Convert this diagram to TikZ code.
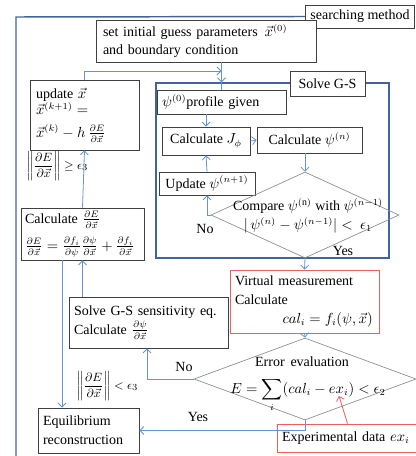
\documentclass[tikz,border=0pt]{standalone}
\usepackage{fontspec}
\setmainfont{Liberation Serif}
\usepackage{amsmath}
\usetikzlibrary{shapes.geometric}
\usetikzlibrary{arrows.meta}
\definecolor{frameblue}{RGB}{65,100,160}
\definecolor{arrowblue}{RGB}{100,148,210}
\definecolor{boxred}{RGB}{235,95,95}
\newlength\pxu
\setlength\pxu{0.75pt}

\begin{document}
\begin{tikzpicture}[x=0.75pt,y=-0.75pt,font=\fontsize{10.5}{14}\selectfont,
	box/.style={draw=black!75,line width=0.6pt,fill=white,inner sep=0pt},
	redbox/.style={box,draw=boxred},
	decision/.style={shape=diamond,draw=black!45,line width=0.5pt,inner sep=0pt},
	flow/.style={draw=arrowblue,line width=0.6pt,-{Straight Barb[length=3pt,width=6pt]}},
	redflow/.style={flow,draw=boxred}]
	\useasboundingbox (0,0) rectangle (416,456);

	% frames
	\node[draw=frameblue,line width=1.1pt,minimum width=233\pxu,minimum height=175\pxu] (gs) at (272.5,170.5) {};
	\node[box,minimum width=109\pxu,minimum height=23\pxu] (search) at (360,16.5) {searching method};
	\draw[frameblue,line width=1.1pt] (search.west) -- (16,17) -- (16,456);

	\node[box,minimum width=220\pxu,minimum height=42\pxu,text width=206\pxu,align=left] (init) at (206,41) {set initial guess parameters \,$\vec{x}^{(0)}$\\and boundary condition};
	\node[box,minimum width=109\pxu,minimum height=70\pxu,text width=97\pxu,align=left] (upd) at (84.5,115) {update $\vec{x}$\\[-2pt]$\vec{x}^{(k+1)}=$\\[3pt]$\vec{x}^{(k)}-h\,\frac{\partial E}{\partial\vec{x}}$};
	\node[box,minimum width=75\pxu,minimum height=25\pxu] (gslabel) at (327.5,83.5) {Solve G-S};

	% inner loop
	\node[box,minimum width=129\pxu,minimum height=24\pxu,text width=119\pxu,align=left] (psi0) at (221.5,102) {$\psi^{(0)}$profile given};
	\node[box,minimum width=88\pxu,minimum height=28\pxu] (jphi) at (206,141) {Calculate $J_\phi$};
	\node[box,minimum width=105\pxu,minimum height=26\pxu] (psin) at (309.5,140) {Calculate $\psi^{(n)}$};
	\node[box,minimum width=96\pxu,minimum height=23\pxu] (upsi) at (207,183.5) {Update $\psi^{(n+1)}$};
	\node[decision,minimum width=188\pxu,minimum height=86\pxu] (cmp) at (305,215) {};
	\node[align=center] (cmptxt) at (308,216) {Compare $\psi^{(\mathrm{n})}$ with $\psi^{(n-1)}$\\$|\,\psi^{(n)}-\psi^{(n-1)}|<\ \epsilon_1$};

	% outer loop
	\node[redbox,minimum width=149\pxu,minimum height=63\pxu,text width=139\pxu,align=left] (vm) at (304.5,301.5) {Virtual measurement\\Calculate\\\hspace*{3.4em}$cal_i=f_i(\psi,\vec{x})$};
	\node[decision,minimum width=222\pxu,minimum height=82\pxu] (err) at (305,379) {};
	\node (errtxt) at (302,362) {Error\, evaluation};
	\node (errsum) at (308,395) {$E=\displaystyle\sum_i(cal_i-ex_i)<\epsilon_2$};
	\coordinate (exi) at (339,396);
	\node[box,minimum width=159\pxu,minimum height=51\pxu,text width=149\pxu,align=left] (sens) at (148.5,322.5) {Solve G-S sensitivity eq.\\Calculate $\frac{\partial\psi}{\partial\vec{x}}$};
	\node[box,minimum width=123\pxu,minimum height=52\pxu,text width=115\pxu,align=left] (calce) at (82.5,234) {Calculate $\frac{\partial E}{\partial\vec{x}}$\\[6pt]$\frac{\partial E}{\partial\vec{x}}=\frac{\partial f_i}{\partial\psi}\frac{\partial\psi}{\partial\vec{x}}+\frac{\partial f_i}{\partial\vec{x}}$};
	\node[box,minimum width=101\pxu,minimum height=45\pxu,text width=91\pxu,align=left] (equil) at (88.5,430.5) {Equilibrium\\reconstruction};
	\node[redbox,minimum width=139\pxu,minimum height=28\pxu,text width=129\pxu,align=left] (expdata) at (346.5,438) {Experimental data $ex_i$};

	% labels
	\node[anchor=west,font=\fontsize{9.5}{11}\selectfont] (geq) at (22,166) {$\left\|\dfrac{\partial E}{\partial\vec{x}}\right\|\geq\epsilon_3$};
	\node[anchor=west,font=\fontsize{9.5}{11}\selectfont] (lt) at (72,386) {$\left\|\dfrac{\partial E}{\partial\vec{x}}\right\|<\epsilon_3$};
	\node (no1) at (205,229) {No};
	\node (yes1) at (343,251) {Yes};
	\node (no2) at (184,367) {No};
	\node (yes2) at (198,417) {Yes};

	% connectors
	\coordinate (merge) at (psi0.north |- 0,71);
	\draw[flow] (init.south -| psi0.north) -- (gs.north -| psi0.north);
	\draw[draw=arrowblue,line width=0.6pt] (gs.north -| psi0.north) -- (psi0.north);
	\draw[flow] (upd.north) |- (merge);
	\draw[flow] (psi0.south -| jphi.north) -- (jphi.north);
	\draw[flow] (jphi.east) -- (psin.west);
	\draw[flow] (psin.south -| cmp.north) -- (cmp.north);
	\draw[flow] (cmp.west) -| (upsi.south);
	\draw[flow] (upsi.north) -- (jphi.south);
	\draw[flow] (cmp.south) -- (vm.north);
	\draw[flow] (vm.south) -- (err.north);
	\draw[flow] (err.west) -| ([xshift=-1.5\pxu]sens.south);
	\draw[flow] (sens.north -| calce.north) -- (calce.south);
	\draw[flow] (calce.north) -- (upd.south);
	\draw[flow] ([xshift=-20.5\pxu]calce.south) -- ([xshift=-20.5\pxu]calce.south |- equil.north);
	\draw[flow] (err.south) |- (equil.east);
	\draw[redflow] ([xshift=1\pxu]expdata.north) -- (exi);
\end{tikzpicture}
\end{document}
